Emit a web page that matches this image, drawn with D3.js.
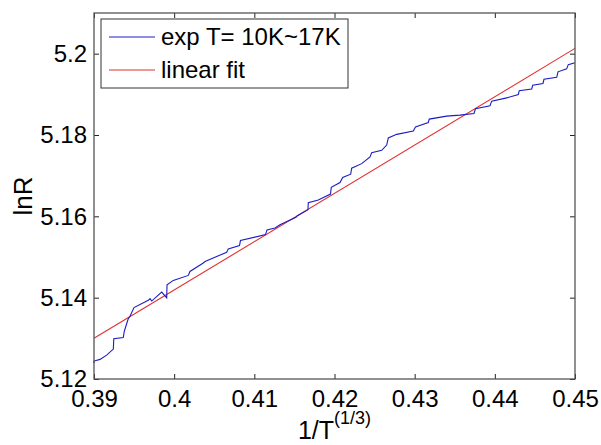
<!DOCTYPE html>
<html>
<head>
<meta charset="utf-8">
<script src="https://cdn.jsdelivr.net/npm/d3@7"></script>
<style>
  body { margin: 0; background: #fff; }
  svg { display: block; }
  text { font-family: "Liberation Sans", Arial, sans-serif; fill: #000; }
</style>
</head>
<body>
<div id="chart"></div>
<script>
const WIDTH = 601;
const HEIGHT = 445;
const MARGIN = { top: 13, right: 26, bottom: 66, left: 94 };

// measured curve, 1/T^(1/3) vs lnR
const expX = [
  0.39000, 0.39000, 0.39075, 0.39158, 0.39241, 0.39247, 0.39365, 0.39378,
  0.39428, 0.39449, 0.39499, 0.39677, 0.39699, 0.39720, 0.39844, 0.39907,
  0.39911, 0.39989, 0.40176, 0.40197, 0.40363, 0.40385, 0.40655, 0.40675,
  0.40815, 0.40827, 0.41139, 0.41158, 0.41258, 0.41320, 0.41520, 0.41538,
  0.41669, 0.41673, 0.41798, 0.41950, 0.41960, 0.42069, 0.42102, 0.42202,
  0.42214, 0.42339, 0.42443, 0.42464, 0.42589, 0.42651, 0.42671, 0.42776,
  0.42983, 0.43010, 0.43170, 0.43182, 0.43399, 0.43565, 0.43740, 0.43759,
  0.43940, 0.43961, 0.44148, 0.44293, 0.44305, 0.44460, 0.44472, 0.44601,
  0.44613, 0.44772, 0.44788, 0.44896, 0.44916, 0.45000
];
const expY = [
  5.12392, 5.12441, 5.12482, 5.12588, 5.12735, 5.12992, 5.13021, 5.13175,
  5.13486, 5.13543, 5.13756, 5.13934, 5.13976, 5.13917, 5.14138, 5.13996,
  5.14314, 5.14424, 5.14547, 5.14644, 5.14853, 5.14889, 5.15117, 5.15200,
  5.15281, 5.15404, 5.15550, 5.15666, 5.15714, 5.15795, 5.15979, 5.16016,
  5.16163, 5.16334, 5.16400, 5.16547, 5.16714, 5.16831, 5.16958, 5.17037,
  5.17184, 5.17296, 5.17460, 5.17566, 5.17624, 5.17754, 5.17926, 5.18016,
  5.18097, 5.18195, 5.18305, 5.18391, 5.18464, 5.18489, 5.18530, 5.18648,
  5.18721, 5.18832, 5.18912, 5.18996, 5.19089, 5.19133, 5.19223, 5.19267,
  5.19370, 5.19419, 5.19554, 5.19627, 5.19730, 5.19779
];

// linear fit end points
const fitX = [0.39, 0.45];
const fitY = [5.1300, 5.2013];

const xTicks = [0.39, 0.40, 0.41, 0.42, 0.43, 0.44, 0.45];
const yTicks = [5.12, 5.14, 5.16, 5.18, 5.20];
const legendLabels = ['exp T= 10K~17K', 'linear fit'];
const colors = ['#1c1cc4', '#e03030'];

const w = WIDTH - MARGIN.left - MARGIN.right;
const h = HEIGHT - MARGIN.top - MARGIN.bottom;

const svg = d3.select('#chart')
  .append('svg')
  .attr('width', WIDTH)
  .attr('height', HEIGHT);

const g = svg.append('g')
  .attr('transform', 'translate(' + MARGIN.left + ',' + MARGIN.top + ')');

const x = d3.scaleLinear().domain([0.39, 0.45]).range([0, w]);
const y = d3.scaleLinear().domain([5.12, 5.21]).range([h, 0]);

const fmt = (d) => String(+d.toFixed(2));

// bottom & left axes with labels, ticks pointing inward
g.append('g')
  .attr('transform', 'translate(0,' + h + ')')
  .call(d3.axisBottom(x).tickValues(xTicks).tickSize(-5).tickPadding(11).tickFormat(fmt))
  .call((a) => a.select('.domain').remove())
  .call((a) => a.selectAll('text').style('font-size', '24px').attr('dy', '0.71em'));

g.append('g')
  .call(d3.axisLeft(y).tickValues(yTicks).tickSize(-5).tickPadding(7).tickFormat(fmt))
  .call((a) => a.select('.domain').remove())
  .call((a) => a.selectAll('text').style('font-size', '24px'));

// top & right ticks
g.append('g')
  .call(d3.axisTop(x).tickValues(xTicks).tickSize(-5).tickFormat(''))
  .call((a) => a.select('.domain').remove());
g.append('g')
  .attr('transform', 'translate(' + w + ',0)')
  .call(d3.axisRight(y).tickValues(yTicks).tickSize(-5).tickFormat(''))
  .call((a) => a.select('.domain').remove());

g.selectAll('.tick line').attr('stroke', '#222');

// the lines
const line = d3.line().x((d) => x(d[0])).y((d) => y(d[1]));

g.append('path')
  .datum(d3.zip(fitX, fitY))
  .attr('fill', 'none')
  .attr('stroke', colors[1])
  .attr('stroke-width', 1.1)
  .attr('d', line);

g.append('path')
  .datum(d3.zip(expX, expY))
  .attr('fill', 'none')
  .attr('stroke', colors[0])
  .attr('stroke-width', 1.1)
  .attr('d', line);

// frame
g.append('rect')
  .attr('width', w)
  .attr('height', h)
  .attr('fill', 'none')
  .attr('stroke', '#555')
  .attr('stroke-width', 1.3);

// legend
const gLegend = g.append('g').attr('transform', 'translate(7,6)');
gLegend.append('rect')
  .attr('width', 247)
  .attr('height', 69)
  .attr('fill', '#fff')
  .attr('stroke', '#333')
  .attr('stroke-width', 1);

const items = gLegend.selectAll('g.item')
  .data(legendLabels)
  .join('g')
  .attr('class', 'item')
  .attr('transform', (d, i) => 'translate(0,' + (18 + i * 33) + ')');

items.append('line')
  .attr('x1', 8).attr('x2', 54)
  .attr('stroke', (d, i) => colors[i])
  .attr('stroke-width', 1.1);

items.append('text')
  .attr('x', 60)
  .attr('dy', '0.35em')
  .style('font-size', '24px')
  .text((d) => d);

// axis titles
const xTitle = svg.append('text')
  .attr('x', MARGIN.left + w / 2)
  .attr('y', 439)
  .attr('text-anchor', 'middle')
  .style('font-size', '25px');
xTitle.append('tspan').text('1/T');
xTitle.append('tspan')
  .attr('dy', -15)
  .style('font-size', '18px')
  .text('(1/3)');

svg.append('text')
  .attr('transform', 'translate(32,' + (MARGIN.top + h / 2) + ') rotate(-90)')
  .attr('text-anchor', 'middle')
  .style('font-size', '26px')
  .text('lnR');
</script>
</body>
</html>
